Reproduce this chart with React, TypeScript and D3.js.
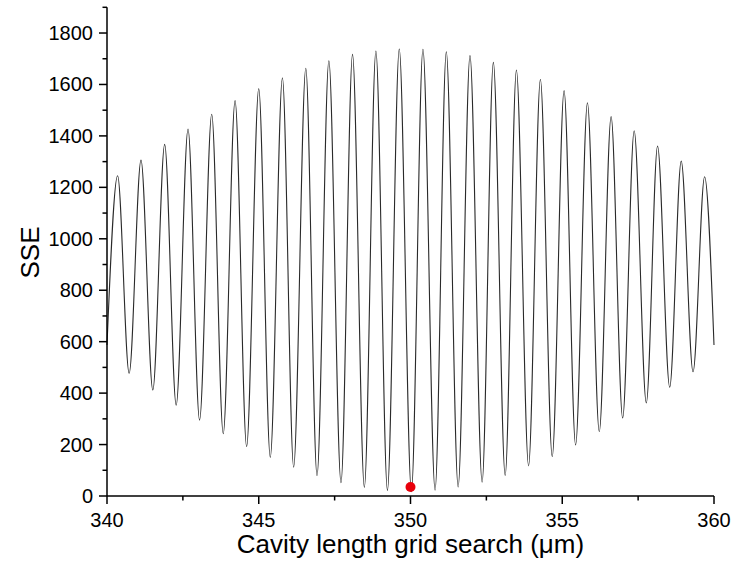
import React from "react";
import * as d3 from "d3";

const startPoint = [340, 587];
const endPoint = [360, 587];
const peakX = [340.35, 341.12, 341.9, 342.67, 343.45, 344.22, 345.0, 345.78, 346.55, 347.31, 348.09, 348.86, 349.63, 350.41, 351.18, 351.96, 352.73, 353.49, 354.28, 355.06, 355.83, 356.61, 357.37, 358.14, 358.92, 359.69];
const peakY = [1245, 1306, 1367, 1427, 1484, 1537, 1584, 1626, 1663, 1692, 1717, 1730, 1738, 1737, 1727, 1712, 1686, 1656, 1620, 1576, 1529, 1475, 1420, 1361, 1302, 1241];
const troughX = [340.73, 341.51, 342.28, 343.05, 343.83, 344.6, 345.38, 346.15, 346.92, 347.71, 348.48, 349.24, 350.03, 350.81, 351.57, 352.36, 353.12, 353.89, 354.67, 355.44, 356.22, 356.99, 357.77, 358.54, 359.31];
const troughY = [477, 412, 353, 295, 242, 192, 150, 112, 79, 52, 34, 22, 17, 23, 35, 54, 80, 117, 153, 198, 250, 303, 362, 423, 483];
const bestFit = [350.0, 35];

const xMajorTicks = [340, 345, 350, 355, 360];
const yMajorTicks = [0, 200, 400, 600, 800, 1000, 1200, 1400, 1600, 1800];
const xTitle = "Cavity length grid search (\u03BCm)";
const yTitle = "SSE";

const W = 734;
const H = 581;
const FONT = "'Liberation Sans', Arial, Helvetica, sans-serif";

export default function App() {
  const x = d3.scaleLinear().domain([340, 360]).range([107, 714]);
  const y = d3.scaleLinear().domain([0, 1900]).range([496, 7.3]);

  const pts: [number, number][] = [];
  pts.push([startPoint[0], startPoint[1]]);
  peakX.forEach((px, i) => pts.push([px, peakY[i]]));
  troughX.forEach((tx, i) => pts.push([tx, troughY[i]]));
  pts.push([endPoint[0], endPoint[1]]);
  pts.sort((a, b) => a[0] - b[0]);

  const line = d3
    .line<[number, number]>()
    .x((d) => x(d[0]))
    .y((d) => y(d[1]))
    .curve(d3.curveMonotoneX);

  const xMinor = d3.range(340, 360.01, 2.5).filter((v) => !xMajorTicks.includes(v));
  const yMinor = d3.range(100, 1901, 200);

  const x0 = x(340);
  const y0 = y(0);

  return (
    <svg
      width={W}
      height={H}
      style={{ position: "absolute", left: 0, top: 0, background: "#fff" }}
      fontFamily={FONT}
    >
      <path d={line(pts) || ""} fill="none" stroke="#2a2a2a" strokeWidth={1.1} />
      <circle cx={x(bestFit[0])} cy={y(bestFit[1])} r={5} fill="#e8000b" />

      {/* axes */}
      <line x1={x0} x2={x0} y1={y(1900)} y2={y0} stroke="#000" strokeWidth={1.5} />
      <line x1={x0} x2={x(360)} y1={y0} y2={y0} stroke="#000" strokeWidth={1.5} />

      {yMajorTicks.map((v) => (
        <g key={"ym" + v}>
          <line x1={x0 - 8} x2={x0} y1={y(v)} y2={y(v)} stroke="#000" strokeWidth={1.5} />
          <text x={x0 - 14} y={y(v)} dy="0.35em" textAnchor="end" fontSize={20} fill="#000">
            {v}
          </text>
        </g>
      ))}
      {yMinor.map((v) => (
        <line key={"yn" + v} x1={x0 - 4.5} x2={x0} y1={y(v)} y2={y(v)} stroke="#000" strokeWidth={1.5} />
      ))}

      {xMajorTicks.map((v) => (
        <g key={"xm" + v}>
          <line x1={x(v)} x2={x(v)} y1={y0} y2={y0 + 8} stroke="#000" strokeWidth={1.5} />
          <text x={x(v)} y={y0 + 31} textAnchor="middle" fontSize={20} fill="#000">
            {v}
          </text>
        </g>
      ))}
      {xMinor.map((v) => (
        <line key={"xn" + v} x1={x(v)} x2={x(v)} y1={y0} y2={y0 + 4.5} stroke="#000" strokeWidth={1.5} />
      ))}

      <text x={(x(340) + x(360)) / 2} y={553} textAnchor="middle" fontSize={26} fill="#000">
        {xTitle}
      </text>
      <text
        transform={`translate(39, ${(y(0) + y(1800)) / 2 - 12}) rotate(-90)`}
        textAnchor="middle"
        fontSize={26}
        fill="#000"
      >
        {yTitle}
      </text>
    </svg>
  );
}
